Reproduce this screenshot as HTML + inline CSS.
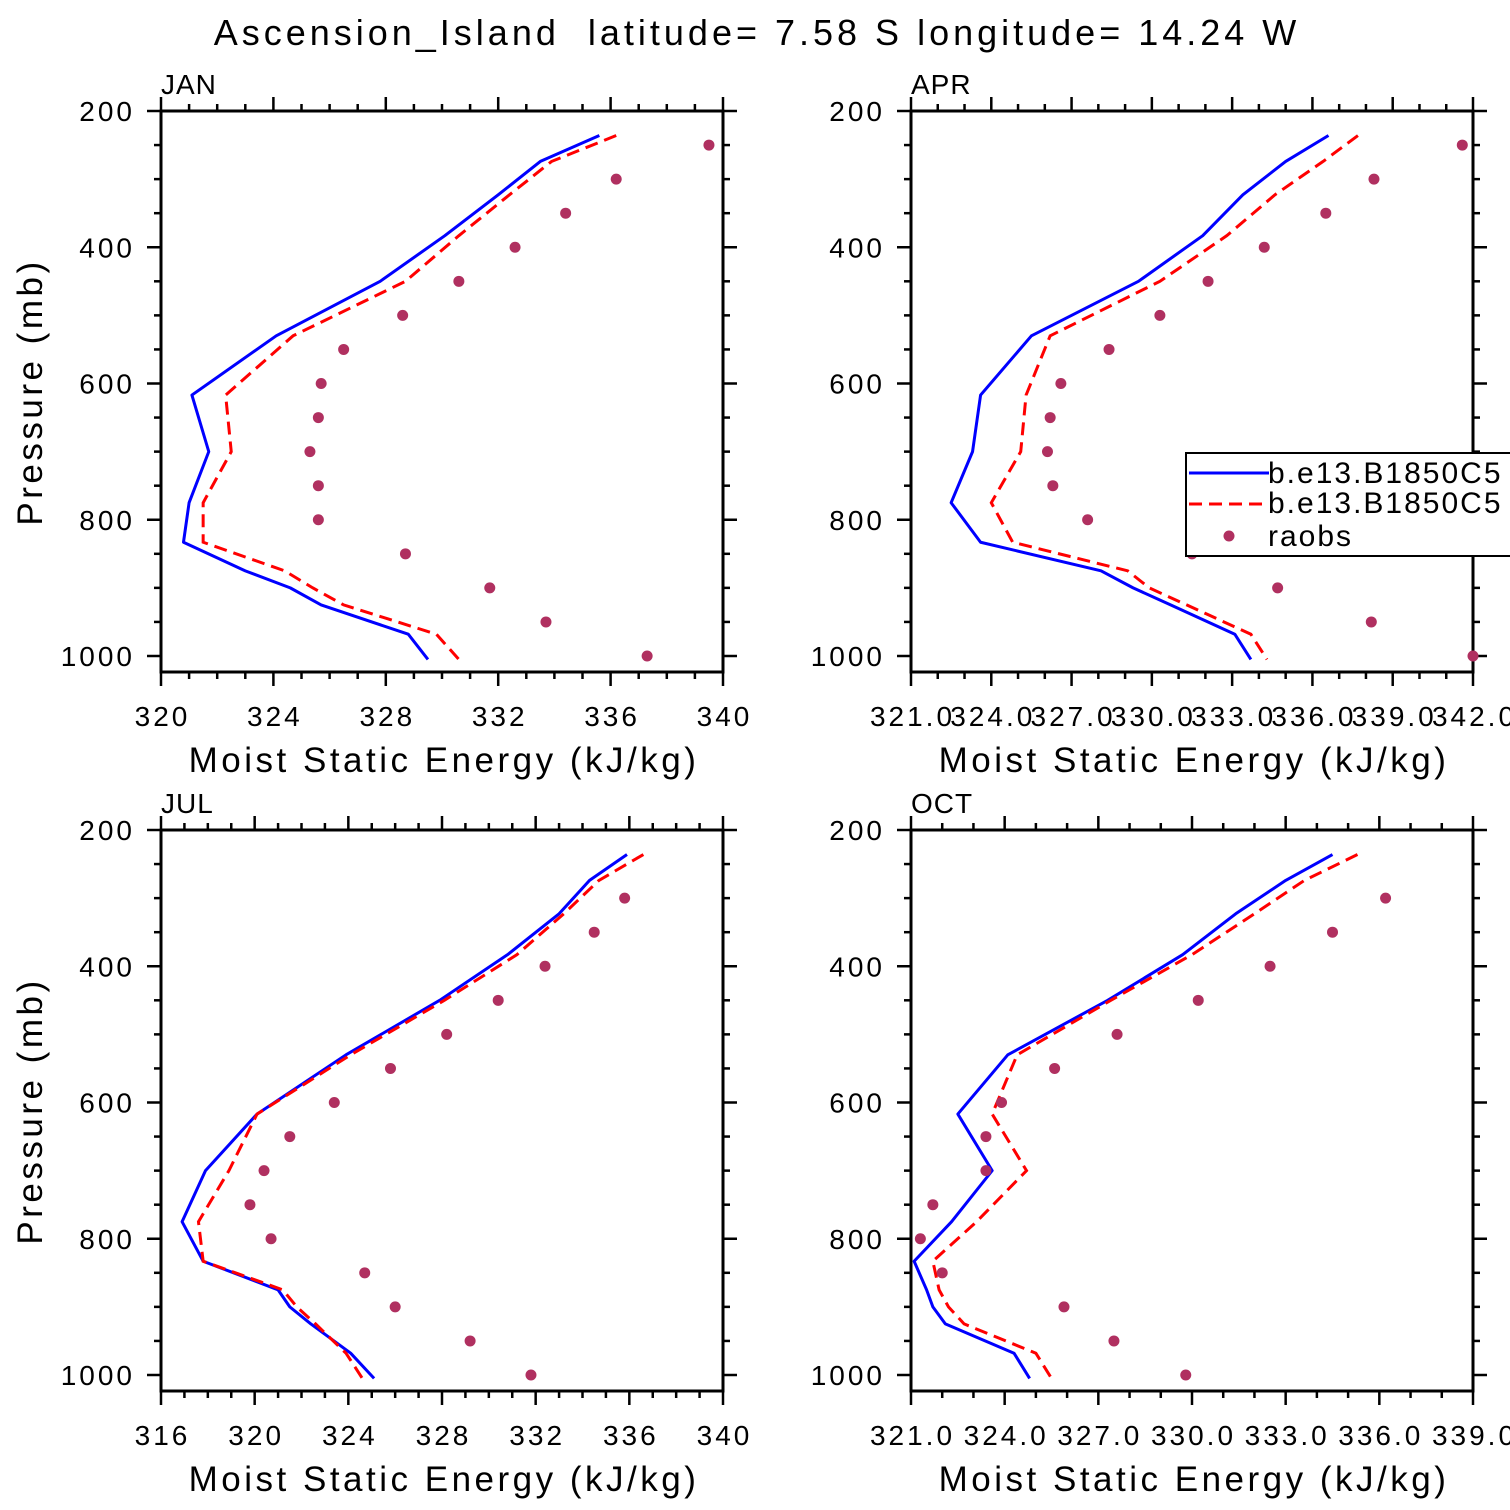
<!DOCTYPE html>
<html><head><meta charset="utf-8"><style>
html,body{margin:0;padding:0;background:#fff;width:1510px;height:1510px;overflow:hidden}
svg{display:block}
text{font-family:"Liberation Sans",sans-serif;fill:#000}
</style></head><body>
<svg id="chart" width="1510" height="1510" viewBox="0 0 1510 1510">
<text x="757" y="45" text-anchor="middle" font-size="36" letter-spacing="4" xml:space="preserve" style="white-space:pre">Ascension_Island  latitude= 7.58 S longitude= 14.24 W</text>
</svg>
<script>
const modelLevels=[236,274,323,383,450,530,617,700,775,833,875,900,925,968,1005];
const raobLevels=[250,300,350,400,450,500,550,600,650,700,750,800,850,900,950,1000];
const janBlue=[335.6,333.5,332.0,330.1,327.8,324.1,321.1,321.7,321.0,320.8,323.0,324.6,325.7,328.8,329.5];
const janRed=[336.2,333.9,332.4,330.6,328.7,324.7,322.3,322.5,321.5,321.5,324.4,325.4,326.5,329.8,330.6];
const janRaobs=[339.5,336.2,334.4,332.6,330.6,328.6,326.5,325.7,325.6,325.3,325.6,325.6,328.7,331.7,333.7,337.3];
const aprBlue=[336.6,335.0,333.4,331.9,329.5,325.5,323.6,323.3,322.5,323.6,328.1,329.3,330.7,333.1,333.7];
const aprRed=[337.7,336.4,334.6,332.8,330.3,326.2,325.3,325.1,324.0,324.8,329.1,329.9,331.3,333.7,334.3];
const aprRaobs=[341.6,338.3,336.5,334.2,332.1,330.3,328.4,326.6,326.2,326.1,326.3,327.6,331.5,334.7,338.2,342.0];
const julBlue=[335.9,334.3,333.0,330.8,327.9,323.9,320.1,317.9,316.9,317.8,321.0,321.5,322.4,324.1,325.1];
const julRed=[336.6,334.7,333.2,331.2,328.1,324.1,320.1,318.9,317.6,317.8,321.2,321.8,322.6,323.9,324.6];
const julRaobs=[null,335.8,334.5,332.4,330.4,328.2,325.8,323.4,321.5,320.4,319.8,320.7,324.7,326.0,329.2,331.8];
const octBlue=[334.5,333.0,331.4,329.7,327.3,324.1,322.5,323.6,322.3,321.1,321.5,321.7,322.1,324.3,324.8];
const octRed=[335.3,333.6,332.0,330.0,327.4,324.4,323.6,324.7,323.1,321.7,321.9,322.2,322.7,325.0,325.5];
const octRaobs=[null,336.2,334.5,332.5,330.2,327.6,325.6,323.9,323.4,323.4,321.7,321.3,322.0,325.9,327.5,329.8];
const janTicks=["320","324","328","332","336","340"];
const aprTicks=["321.0","324.0","327.0","330.0","333.0","336.0","339.0","342.0"];
const julTicks=["316","320","324","328","332","336","340"];
const octTicks=["321.0","324.0","327.0","330.0","333.0","336.0","339.0"];
const pTicks=[200,400,600,800,1000];

const NS="http://www.w3.org/2000/svg";
const svg=document.getElementById('chart');
function mk(tag,attrs,parent){const e=document.createElementNS(NS,tag);for(const k in attrs)e.setAttribute(k,attrs[k]);(parent||svg).appendChild(e);return e;}

const panels=[
 {name:'jan',label:'JAN',x0:161,y0:111,xmin:320,xmax:340,step:4,minor:1,ticks:janTicks,blue:janBlue,red:janRed,raobs:janRaobs,ylab:true},
 {name:'apr',label:'APR',x0:911,y0:111,xmin:321,xmax:342,step:3,minor:1,ticks:aprTicks,blue:aprBlue,red:aprRed,raobs:aprRaobs,ylab:false},
 {name:'jul',label:'JUL',x0:161,y0:830,xmin:316,xmax:340,step:4,minor:1,ticks:julTicks,blue:julBlue,red:julRed,raobs:julRaobs,ylab:true},
 {name:'oct',label:'OCT',x0:911,y0:830,xmin:321,xmax:339,step:3,minor:1,ticks:octTicks,blue:octBlue,red:octRed,raobs:octRaobs,ylab:false}
];
const W=562,H=561;
panels.forEach(P=>{
 const g=mk('g',{});
 
 
 const xs=v=>P.x0+(v-P.xmin)/(P.xmax-P.xmin)*W;
 const ys=p=>P.y0+(p-200)*545/800;
 const lbl=mk('text',{x:P.x0,y:P.y0-17,'font-size':28,'letter-spacing':1},g);lbl.textContent=P.label;
 
 
 for(let v=P.xmin;v<=P.xmax+1e-6;v+=P.minor){
  const x=xs(v);const major=Math.abs(((v-P.xmin)/P.step)-Math.round((v-P.xmin)/P.step))<1e-6;
  const L=major?14:7;
  mk('line',{x1:x,x2:x,y1:P.y0,y2:P.y0-L,stroke:'#000','stroke-width':2.5},g);
  mk('line',{x1:x,x2:x,y1:P.y0+H,y2:P.y0+H+L,stroke:'#000','stroke-width':2.5},g);
 }
 P.ticks.forEach((t,i)=>{
  const v=P.xmin+i*P.step;
  const tx=mk('text',{x:xs(v)+1.5,y:P.y0+H+54,'font-size':28,'letter-spacing':3,'text-anchor':'middle'},g);tx.textContent=t;
  
  
 });
 for(let p=250;p<=1000;p+=50){
  const y=ys(p);const major=p%200===0;const L=major?14:7;
  mk('line',{x1:P.x0,x2:P.x0-L,y1:y,y2:y,stroke:'#000','stroke-width':2.5},g);
  mk('line',{x1:P.x0+W,x2:P.x0+W+L,y1:y,y2:y,stroke:'#000','stroke-width':2.5},g);
 }
 mk('line',{x1:P.x0,x2:P.x0-14,y1:P.y0,y2:P.y0,stroke:'#000','stroke-width':2.5},g);
 mk('line',{x1:P.x0+W,x2:P.x0+W+14,y1:P.y0,y2:P.y0,stroke:'#000','stroke-width':2.5},g);
 pTicks.forEach(p=>{
  const t=mk('text',{x:P.x0-26,y:ys(p)+10,'font-size':28,'letter-spacing':3,'text-anchor':'end'},g);t.textContent=p;
  
  
 });
 const fr=mk('rect',{x:P.x0,y:P.y0,width:W,height:H,fill:'none',stroke:'#000','stroke-width':3},g);
 
 
 const xt=mk('text',{x:P.x0+W/2+2,y:P.y0+H+100,'font-size':35,'text-anchor':'middle','letter-spacing':'3.5'},g);
 xt.textContent='Moist Static Energy (kJ/kg)';
 
 
 if(P.ylab){
  const yt=mk('text',{x:0,y:0,'font-size':35,'text-anchor':'middle','letter-spacing':'3.5',transform:`translate(42,${P.y0+281}) rotate(-90)`},g);
  yt.textContent='Pressure (mb)';
  
  
 }
 const pts=a=>a.map((v,i)=>xs(v)+','+ys(modelLevels[i])).join(' ');
 const lb=mk('polyline',{points:pts(P.blue),fill:'none',stroke:'#0000ff','stroke-width':3,'stroke-linejoin':'round'},g);
 
 
 const lr=mk('polyline',{points:pts(P.red),fill:'none',stroke:'#ff0000','stroke-width':3,'stroke-dasharray':'13,7'},g);
 
 
 P.raobs.forEach((v,i)=>{
  if(v===null)return;
  const c=mk('circle',{cx:xs(v),cy:ys(raobLevels[i]),r:5.5,fill:'#b03060'},g);
  
  
 });
});
const lg=mk('g',{});


mk('rect',{x:1186,y:453,width:340,height:103,fill:'#fff',stroke:'#000','stroke-width':2},lg);
const le1=mk('line',{x1:1189,x2:1269,y1:473,y2:473,stroke:'#0000ff','stroke-width':3},lg);


const t1=mk('text',{x:1268,y:483,'font-size':30,'letter-spacing':2},lg);t1.textContent='b.e13.B1850C5';
const le2=mk('line',{x1:1189,x2:1269,y1:504,y2:504,stroke:'#ff0000','stroke-width':3,'stroke-dasharray':'13,7'},lg);


const t2=mk('text',{x:1268,y:513,'font-size':30,'letter-spacing':2},lg);t2.textContent='b.e13.B1850C5';
const lc=mk('circle',{cx:1229,cy:536,r:5.5,fill:'#b03060'},lg);


const t3=mk('text',{x:1268,y:546,'font-size':30,'letter-spacing':2},lg);t3.textContent='raobs';
</script>
</body></html>
